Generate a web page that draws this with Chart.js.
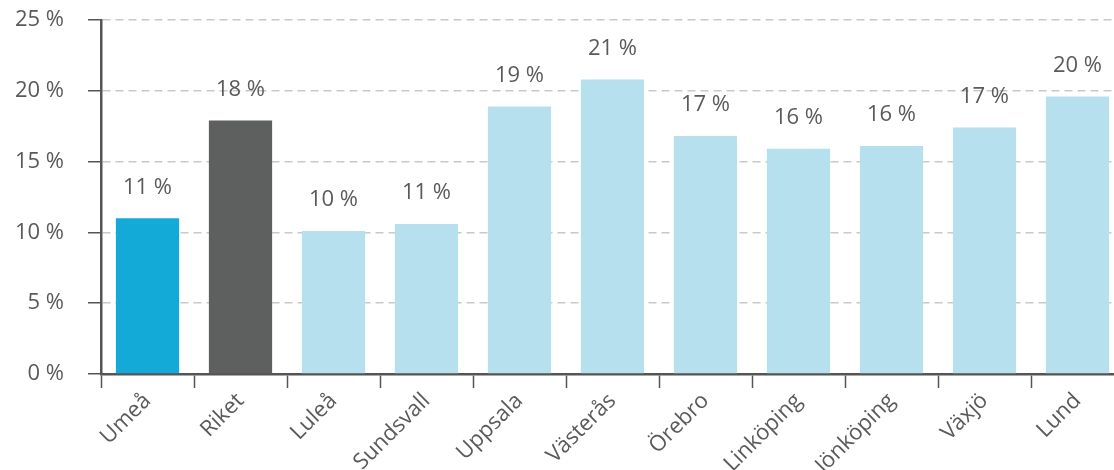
<!DOCTYPE html>
<html>
<head>
  <meta charset="utf-8">
  <script src="https://cdn.jsdelivr.net/npm/chart.js"></script>
  <style>
    html, body { margin: 0; padding: 0; background: #fff; overflow: hidden; }
    #wrap { width: 1124px; height: 470px; }
  </style>
</head>
<body>
  <div id="wrap">
    <canvas id="barChart" width="1124" height="470"></canvas>
  </div>
  <script>
    // data
    const cities = ['Umeå', 'Riket', 'Luleå', 'Sundsvall', 'Uppsala', 'Västerås', 'Örebro', 'Linköping', 'Jönköping', 'Växjö', 'Lund'];
    const shares = [11.0, 17.9, 10.1, 10.6, 18.9, 20.8, 16.8, 15.9, 16.1, 17.4, 19.6];
    const yTicks = [0, 5, 10, 15, 20, 25];

    const barColors = cities.map(function (c) {
      if (c === 'Umeå') return '#14aad8';
      if (c === 'Riket') return '#5e5f5f';
      return '#b7e0ee';
    });

    const textColor = '#5a5a5a';
    const axisColor = '#555555';

    // value labels above the bars
    const valueLabels = {
      id: 'valueLabels',
      afterDatasetsDraw(chart) {
        const ctx = chart.ctx;
        const meta = chart.getDatasetMeta(0);
        ctx.save();
        ctx.font = '22px "Open Sans"';
        ctx.fillStyle = textColor;
        ctx.textAlign = 'center';
        ctx.textBaseline = 'middle';
        meta.data.forEach(function (bar, i) {
          ctx.fillText(Math.round(shares[i]) + ' %', bar.x, bar.y - 31);
        });
        ctx.restore();
      }
    };

    const ctx = document.getElementById('barChart').getContext('2d');
    new Chart(ctx, {
      type: 'bar',
      data: {
        labels: cities,
        datasets: [{
          data: shares,
          backgroundColor: barColors,
          borderWidth: 0,
          barPercentage: 0.68,
          categoryPercentage: 1.0
        }]
      },
      options: {
        responsive: false,
        animation: false,
        layout: { padding: { top: 20, right: 0, left: 0, bottom: 0 } },
        plugins: {
          legend: { display: false },
          tooltip: { enabled: false }
        },
        scales: {
          x: {
            grid: {
              offset: true,
              drawOnChartArea: false,
              drawTicks: true,
              tickLength: 14,
              tickColor: axisColor,
              tickWidth: 1.5
            },
            border: { display: true, color: axisColor, width: 2.5 },
            ticks: {
              color: textColor,
              font: { family: 'Open Sans', size: 22 },
              maxRotation: 45,
              minRotation: 45,
              autoSkip: false,
              padding: 0
            },
            afterFit(scale) { scale.height = 96; scale.paddingLeft = 0; scale.paddingRight = 0; }
          },
          y: {
            min: 0,
            max: 25,
            afterBuildTicks(scale) {
              scale.ticks = yTicks.map(function (v) { return { value: v }; });
            },
            grid: {
              color: '#c9c9c9',
              lineWidth: 1.5,
              drawTicks: true,
              tickLength: 13,
              tickColor: axisColor,
              tickWidth: 1.5,
              tickBorderDash: []
            },
            border: { display: true, color: axisColor, width: 2.5, dash: [8, 5] },
            ticks: {
              color: textColor,
              font: { family: 'Open Sans', size: 22 },
              padding: 24,
              callback: function (v) { return v + ' %'; }
            },
            afterFit(scale) { scale.width = 101; scale.paddingTop = 0; scale.paddingBottom = 0; }
          }
        }
      },
      plugins: [valueLabels]
    });
  </script>
</body>
</html>
